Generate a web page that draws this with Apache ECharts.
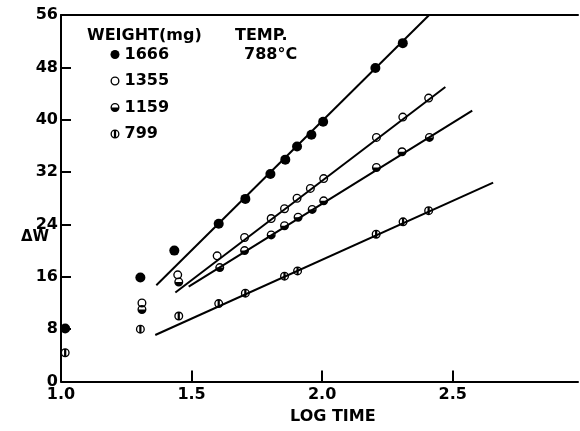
<!DOCTYPE html>
<html><head><meta charset="utf-8">
<script src="https://cdn.jsdelivr.net/npm/echarts@6/dist/echarts.min.js"></script>
<style>html,body{margin:0;padding:0;background:#fff}#c{width:580px;height:431px}</style>
</head><body><div id="c"></div>
<script>
// data
const weights = ['1666', '1355', '1159', '799'];
const s1666 = [[1.016,8.1],[1.304,15.9],[1.434,20.0],[1.604,24.1],[1.706,27.9],[1.802,31.7],[1.859,33.9],[1.904,35.9],[1.959,37.7],[2.004,39.7],[2.204,47.9],[2.309,51.7]];
const s1355 = [[1.310,12.0],[1.447,16.3],[1.598,19.2],[1.703,22.0],[1.805,24.9],[1.856,26.4],[1.904,28.0],[1.955,29.5],[2.006,31.0],[2.208,37.3],[2.309,40.4],[2.408,43.3]];
const s1159 = [[1.310,11.0],[1.451,15.2],[1.608,17.4],[1.703,20.0],[1.805,22.4],[1.856,23.8],[1.908,25.1],[1.962,26.3],[2.006,27.6],[2.208,32.7],[2.306,35.1],[2.411,37.3]];
const s799  = [[1.016,4.4],[1.304,8.0],[1.451,10.0],[1.604,11.9],[1.706,13.5],[1.856,16.1],[1.906,16.9],[2.207,22.5],[2.310,24.4],[2.408,26.1]];
const fit1666 = [[1.365,14.7],[2.41,56.0]];
const fit1355 = [[1.438,13.6],[2.472,45.0]];
const fit1159 = [[1.489,14.5],[2.575,41.4]];
const fit799  = [[1.361,7.1],[2.655,30.4]];
const xTickLabels = ['1.0', '1.5', '2.0', '2.5'];

const FONT = 'DejaVu Sans';
const ring = 'M0,-10 A10,10 0 1,1 0,10 A10,10 0 1,1 0,-10 Z M0,-7 A7,7 0 1,0 0,7 A7,7 0 1,0 0,-7 Z';
const symOpen = 'path://' + ring;
const symHalfH = 'path://' + ring + ' M-7,0 A7,7 0 0,0 7,0 Z';
const symBarV = 'path://' + ring + ' M-2.5,-7 L2.5,-7 L2.5,7 L-2.5,7 Z';

const chart = echarts.init(document.getElementById('c'), null, {renderer: 'canvas'});
function scat(name, data, symbol, size) {
  return {name, type: 'scatter', data, symbol, symbolSize: size, symbolKeepAspect: true,
    itemStyle: {color: '#000', opacity: 1}, z: 5};
}
function fit(data) {
  return {type: 'line', data, showSymbol: false, symbol: 'none', silent: true,
    lineStyle: {color: '#000', width: 2}, z: 3};
}
const txt = {color: '#000', fontFamily: FONT, fontSize: 16, fontWeight: 'bold'};
chart.setOption({
  animation: false,
  backgroundColor: '#fff',
  grid: {left: 61, right: 2, top: 15, bottom: 49.5, containLabel: false},
  xAxis: [{
    type: 'value', min: 1.0, max: 2.98, interval: 0.5,
    axisLine: {show: true, onZero: false, lineStyle: {color: '#000', width: 2}},
    axisTick: {show: true, inside: true, length: 11, lineStyle: {color: '#000', width: 2}},
    axisLabel: Object.assign({}, txt, {margin: 5, showMaxLabel: false,
      formatter: v => { const s = v.toFixed(1); return xTickLabels.indexOf(s) >= 0 ? s : ''; }}),
    splitLine: {show: false}
  }, {
    type: 'value', position: 'top', min: 1.0, max: 2.98,
    axisLine: {show: true, onZero: false, lineStyle: {color: '#000', width: 2}},
    axisTick: {show: false}, axisLabel: {show: false}, splitLine: {show: false}
  }],
  yAxis: {
    type: 'value', min: 0, max: 56, interval: 8,
    axisLine: {show: true, onZero: false, lineStyle: {color: '#000', width: 2}},
    axisTick: {show: true, inside: true, length: 10, lineStyle: {color: '#000', width: 2}},
    axisLabel: Object.assign({}, txt, {margin: 3}),
    splitLine: {show: false}
  },
  legend: {
    orient: 'vertical', left: 110.5, top: 46.5, padding: 0, itemGap: 10.5, itemWidth: 9, itemHeight: 9,
    data: weights.map(w => ({name: w})),
    textStyle: Object.assign({}, txt),
    selectedMode: false
  },
  graphic: [
    {type: 'text', left: 87, top: 28, style: {text: 'WEIGHT(mg)', font: 'bold 16px "DejaVu Sans"', fill: '#000'}},
    {type: 'text', left: 235, top: 28, style: {text: 'TEMP.', font: 'bold 16px "DejaVu Sans"', fill: '#000'}},
    {type: 'text', left: 244, top: 47, style: {text: '788°C', font: 'bold 16px "DejaVu Sans"', fill: '#000'}},
    {type: 'text', left: 21, top: 230, style: {text: 'ΔW', font: 'bold 15px "DejaVu Sans"', fill: '#000'}},
    {type: 'text', left: 290, top: 409, style: {text: 'LOG TIME', font: 'bold 16px "DejaVu Sans"', fill: '#000'}}
  ],
  series: [
    scat('1666', s1666, 'circle', 10),
    scat('1355', s1355, symOpen, 9),
    scat('1159', s1159, symHalfH, 9),
    scat('799', s799, symBarV, 9),
    fit(fit1666), fit(fit1355), fit(fit1159), fit(fit799)
  ]
});
</script></body></html>
